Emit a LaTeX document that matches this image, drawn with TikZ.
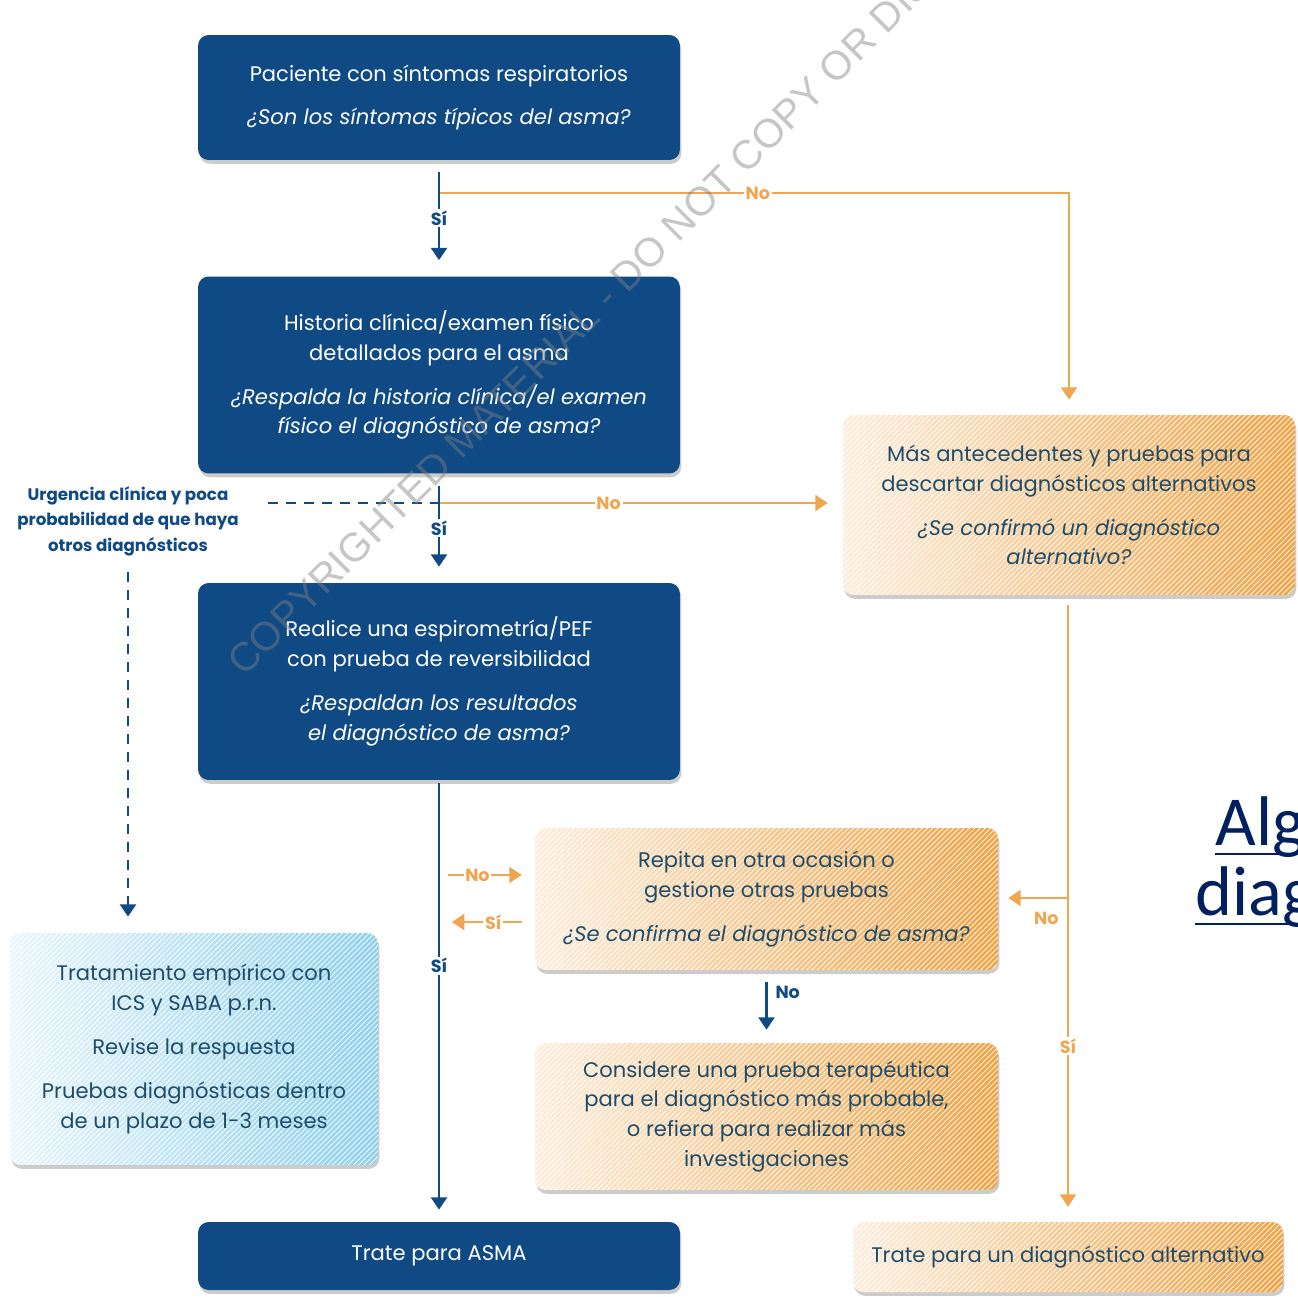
\documentclass[tikz,border=0pt]{standalone}
\usepackage{fontspec}
\setmainfont{Poppins}
\newfontfamily\markfont{Liberation Sans}
\newfontfamily\titlefont{Carlito}
\usepackage{xcolor}
\usetikzlibrary{arrows.meta,positioning,calc,shadows,patterns}
\definecolor{boxblue}{HTML}{0F4A85}
\definecolor{lineorange}{HTML}{F0A550}
\definecolor{creamorange}{HTML}{FCEEDD}
\definecolor{deeporange}{HTML}{F2A447}
\definecolor{paleblue}{HTML}{EAF6FB}
\definecolor{skyblue}{HTML}{8FD1EF}
\definecolor{slatetext}{HTML}{1E4D6B}
\definecolor{navytitle}{HTML}{002060}

\begin{document}
\begin{tikzpicture}[x=0.02cm, y=-0.02cm,
  basebox/.style={rounded corners=6pt, align=center, inner sep=0pt,
    font=\fontsize{12}{17}\selectfont,
    drop shadow={shadow xshift=0.8pt, shadow yshift=-2.2pt, opacity=0.4}},
  darkbox/.style={basebox, fill=boxblue, text=white},
  orangebox/.style={basebox, left color=creamorange, right color=deeporange, text=slatetext,
    postaction={pattern=north east lines, pattern color=white, fill opacity=0.35}},
  lightbox/.style={basebox, left color=paleblue, right color=skyblue, text=slatetext,
    postaction={pattern=north east lines, pattern color=white, fill opacity=0.35}},
  blueline/.style={boxblue, line width=1.6pt},
  bluearrow/.style={blueline, -{Triangle[width=9pt,length=7pt]}},
  orangeline/.style={lineorange, line width=1.4pt},
  orangearrow/.style={orangeline, -{Triangle[width=9pt,length=7pt]}},
  dasharrow/.style={blueline, dash pattern=on 0.2cm off 0.16cm, -{Triangle[width=9pt,length=7pt]}},
  yeslbl/.style={fill=white, inner sep=1pt, font=\fontsize{10}{10}\selectfont\bfseries},
]
\useasboundingbox (0,0) rectangle (1298,1297);
\clip (0,0) rectangle (1298,1297);

% boxes
\node[darkbox, minimum width=9.64cm, minimum height=2.5cm] (top) at (439,97.5)
  {Paciente con síntomas respiratorios\\[8pt] \itshape ¿Son los síntomas típicos del asma?};
\node[darkbox, minimum width=9.64cm, minimum height=3.94cm] (hist) at (439,375)
  {Historia clínica/examen físico\\ detallados para el asma\\[8pt]
   \itshape ¿Respalda la historia clínica/el examen\\ \itshape físico el diagnóstico de asma?};
\node[darkbox, minimum width=9.64cm, minimum height=3.94cm] (spir) at (439,681.5)
  {Realice una espirometría/PEF\\ con prueba de reversibilidad\\[8pt]
   \itshape ¿Respaldan los resultados\\ \itshape el diagnóstico de asma?};
\node[darkbox, minimum width=9.64cm, minimum height=1.36cm] (asma) at (439,1256) {Trate para ASMA};
\node[orangebox, minimum width=9.04cm, minimum height=3.6cm] (mas) at (1069,505)
  {Más antecedentes y pruebas para\\ descartar diagnósticos alternativos\\[8pt]
   \itshape ¿Se confirmó un diagnóstico\\ \itshape alternativo?};
\node[orangebox, minimum width=9.26cm, minimum height=2.84cm] (repita) at (766.5,899)
  {Repita en otra ocasión o\\ gestione otras pruebas\\[8pt] \itshape ¿Se confirma el diagnóstico de asma?};
\node[orangebox, minimum width=9.26cm, minimum height=2.94cm] (considere) at (766.5,1116.5)
  {Considere una prueba terapéutica\\ para el diagnóstico más probable,\\ o refiera para realizar más\\ investigaciones};
\node[orangebox, minimum width=8.6cm, minimum height=1.4cm] (alt) at (1068,1257)
  {Trate para un diagnóstico alternativo};
\node[lightbox, minimum width=7.36cm, minimum height=4.64cm] (emp) at (194,1049)
  {Tratamiento empírico con\\ ICS y SABA p.r.n.\\[8pt] Revise la respuesta\\[8pt]
   Pruebas diagnósticas dentro\\ de un plazo de 1-3 meses};
\node[align=center, text=boxblue, font=\fontsize{9.5}{14.5}\selectfont\bfseries] (urg) at (128,521)
  {Urgencia clínica y poca\\ probabilidad de que haya\\ otros diagnósticos};

% connectors
\coordinate (j1) at (439,193);
\coordinate (j2) at (439,503);
\coordinate (j3) at (1068,898);
\coordinate (d1) at (268,503);
\coordinate (n1) at (448,875);
\coordinate (s1) at (452,922);
\draw[orangearrow, shorten >=0.3cm] (j1) -- node[pos=0.506, fill=white, inner sep=1pt, text=lineorange, font=\fontsize{10}{10}\selectfont\bfseries] {No} (j1 -| mas.north) -- (mas.north);
\draw[bluearrow, shorten <=0.24cm, shorten >=0.32cm] (top) -- node[yeslbl, text=boxblue] {Sí} (hist);
\draw[orangearrow, shorten >=0.3cm] (j2) -- node[pos=0.42, fill=white, inner sep=1pt, text=lineorange, font=\fontsize{10}{10}\selectfont\bfseries] {No} (j2 -| mas.west);
\draw[blueline, dash pattern=on 0.2cm off 0.16cm] (d1) -- (j2);
\draw[bluearrow, shorten <=0.24cm, shorten >=0.32cm] (hist) -- node[yeslbl, text=boxblue] {Sí} (spir);
\draw[dasharrow, shorten <=0.2cm, shorten >=0.32cm] (urg.south) -- (urg.south |- emp.north);
\draw[bluearrow, shorten <=0.06cm, shorten >=0.24cm] (spir) -- node[pos=0.42, yeslbl, text=boxblue] {Sí} (asma);
\draw[orangearrow, shorten >=0.26cm] (n1) -- node[pos=0.34, fill=white, inner sep=1pt, text=lineorange, font=\fontsize{10}{10}\selectfont\bfseries] {No} (n1 -| repita.west);
\draw[orangearrow, shorten <=0.26cm] (s1 -| repita.west) -- node[pos=0.5, fill=white, inner sep=1pt, text=lineorange, font=\fontsize{10}{10}\selectfont\bfseries] {Sí} (s1);
\draw[bluearrow, shorten <=0.24cm, shorten >=0.26cm] (repita) -- node[pos=0.3, right=1pt, text=boxblue, font=\fontsize{10}{10}\selectfont\bfseries] {No} (considere);
\draw[orangearrow, shorten <=0.2cm, shorten >=0.3cm] (mas.south -| j3) -- node[pos=0.72, fill=white, inner sep=1pt, text=lineorange, font=\fontsize{10}{10}\selectfont\bfseries] {Sí} (alt.north -| j3);
\draw[orangearrow, shorten >=0.2cm] (j3) -- node[pos=0.31, below=4pt, text=lineorange, font=\fontsize{10}{10}\selectfont\bfseries] {No} (j3 -| repita.east);

% title fragments at the edge
\node[anchor=base west, inner sep=0pt, text=navytitle, font=\titlefont\fontsize{40}{40}\selectfont] (alg) at (1215,845) {Alg};
\node[anchor=base west, inner sep=0pt, text=navytitle, font=\titlefont\fontsize{40}{40}\selectfont] (diag) at (1195,915) {diag};
\draw[navytitle, line width=1.4pt] ([yshift=-5pt]alg.base west) -- ++(200,0);
\draw[navytitle, line width=1.4pt] ([yshift=-5pt]diag.base west) -- ++(200,0);

% watermark
\node[anchor=base west, rotate=45, inner sep=0pt, text=gray, opacity=0.45, font=\markfont\fontsize{23}{23}\selectfont] (mark) at (244,678)
  {COPYRIGHTED MATERIAL - DO NOT COPY OR DISTRIBUTE};
\end{tikzpicture}
\end{document}
